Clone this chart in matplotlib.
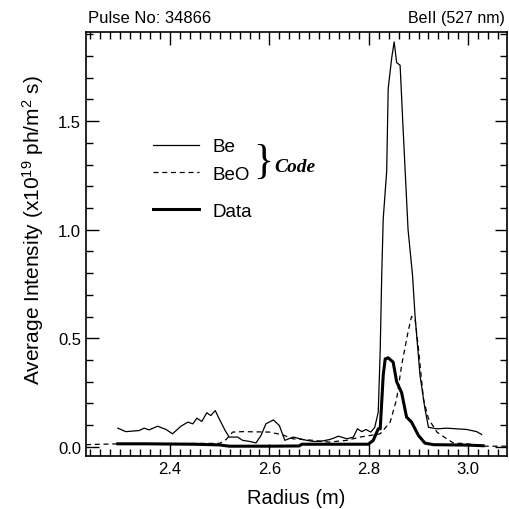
import numpy as np
import matplotlib.pyplot as plt
from matplotlib.ticker import MultipleLocator

plt.rcParams['font.family'] = ['Liberation Sans', 'DejaVu Sans']
plt.rcParams['mathtext.default'] = 'regular'

# Be (code) - thin solid
be_r = [2.295, 2.311, 2.338, 2.348, 2.358, 2.375, 2.392, 2.405, 2.422, 2.436, 2.446, 2.454,
        2.464, 2.474, 2.482, 2.491, 2.499, 2.511, 2.519, 2.536, 2.546, 2.560, 2.573, 2.583,
        2.593, 2.608, 2.620, 2.631, 2.648, 2.662, 2.675, 2.688, 2.702, 2.722, 2.739, 2.756,
        2.769, 2.777, 2.786, 2.794, 2.804, 2.812, 2.819, 2.823, 2.826, 2.829, 2.836, 2.839,
        2.846, 2.851, 2.856, 2.863, 2.869, 2.879, 2.888, 2.893, 2.903, 2.913, 2.920, 2.937,
        2.957, 2.997, 3.017, 3.027]
be_i = [0.086, 0.070, 0.075, 0.086, 0.078, 0.095, 0.080, 0.060, 0.095, 0.114, 0.106, 0.132,
        0.117, 0.157, 0.144, 0.167, 0.129, 0.075, 0.045, 0.045, 0.030, 0.025, 0.018, 0.052,
        0.106, 0.124, 0.098, 0.030, 0.045, 0.037, 0.030, 0.025, 0.025, 0.034, 0.049, 0.037,
        0.045, 0.083, 0.070, 0.080, 0.068, 0.090, 0.160, 0.450, 0.790, 1.050, 1.270, 1.650,
        1.790, 1.865, 1.770, 1.757, 1.465, 1.000, 0.790, 0.605, 0.330, 0.175, 0.090, 0.083,
        0.086, 0.080, 0.070, 0.057]

# BeO (code) - dashed
beo_r = [2.231, 2.260, 2.300, 2.400, 2.500, 2.513, 2.526, 2.546, 2.600, 2.627, 2.647, 2.688,
         2.720, 2.756, 2.782, 2.802, 2.823, 2.843, 2.856, 2.866, 2.879, 2.886, 2.893, 2.900,
         2.910, 2.920, 2.937, 2.957, 2.970, 2.997, 3.030, 3.078]
beo_i = [0.010, 0.012, 0.014, 0.015, 0.016, 0.034, 0.068, 0.070, 0.068, 0.055, 0.037, 0.030,
         0.022, 0.030, 0.045, 0.052, 0.060, 0.114, 0.220, 0.375, 0.530, 0.600, 0.590, 0.450,
         0.220, 0.130, 0.068, 0.037, 0.018, 0.014, 0.003, 0.003]

# measured data - thick solid
dat_r = [2.295, 2.350, 2.400, 2.450, 2.499, 2.519, 2.600, 2.660, 2.665, 2.750, 2.799, 2.809,
         2.819, 2.823, 2.829, 2.833, 2.839, 2.849, 2.856, 2.866, 2.876, 2.886, 2.900, 2.913,
         2.930, 3.000, 3.030]
dat_i = [0.014, 0.014, 0.013, 0.012, 0.009, 0.003, 0.003, 0.004, 0.012, 0.012, 0.012, 0.030,
         0.083, 0.083, 0.330, 0.405, 0.410, 0.390, 0.300, 0.250, 0.137, 0.114, 0.052, 0.017,
         0.010, 0.008, 0.005]

fig = plt.figure(figsize=(5.09, 5.10), dpi=100)
ax = fig.add_axes([0.169, 0.104, 0.827, 0.831])

l1, = ax.plot(be_r, be_i, color='black', lw=0.9)
l2, = ax.plot(beo_r, beo_i, color='black', lw=0.9, dashes=(4, 3))
l3, = ax.plot(dat_r, dat_i, color='black', lw=2.2)

ax.set_xlim(2.231, 3.078)
ax.set_ylim(-0.042, 1.91)
ax.xaxis.set_minor_locator(MultipleLocator(0.02))
ax.yaxis.set_minor_locator(MultipleLocator(0.1))
ax.set_xticks([2.4, 2.6, 2.8, 3.0])
ax.set_yticks([0.0, 0.5, 1.0, 1.5])
ax.xaxis.set_major_formatter(plt.FormatStrFormatter('%.1f'))
ax.yaxis.set_major_formatter(plt.FormatStrFormatter('%.1f'))
ax.tick_params(which='both', direction='in', top=True, right=True, labelsize=12)
ax.tick_params(which='major', length=9, width=1)
ax.tick_params(which='minor', length=5, width=1)
for s in ax.spines.values():
    s.set_linewidth(1.2)

ax.set_xlabel('Radius (m)', fontsize=14.5, labelpad=9)
ax.set_ylabel('Average Intensity (x10$^{19}$ ph/m$^{2}$ s)', fontsize=15)
ax.yaxis.set_label_coords(-0.095, 0.535)

fig.text(0.173, 0.964, 'Pulse No: 34866', fontsize=12, va='center', ha='left')
fig.text(0.992, 0.964, 'BeII (527 nm)', fontsize=11.5, va='center', ha='right')

leg1 = ax.legend([l1, l2], ['Be', 'BeO'], loc='upper left', bbox_to_anchor=(0.158, 0.75),
                 frameon=False, fontsize=13.5, handlelength=2.5, handletextpad=0.7,
                 labelspacing=0.55, borderpad=0, borderaxespad=0)
ax.add_artist(leg1)
ax.legend([l3], ['Data'], loc='upper left', bbox_to_anchor=(0.158, 0.598),
          frameon=False, fontsize=13.5, handlelength=2.5, handletextpad=0.7,
          borderpad=0, borderaxespad=0)

ax.text(0.398, 0.695, '}', transform=ax.transAxes, fontsize=30, family='Liberation Serif',
        va='center', ha='left')
ax.text(0.447, 0.684, 'Code', transform=ax.transAxes, fontsize=14, family='Liberation Serif',
        style='italic', weight='bold', va='center', ha='left')

fig.savefig('out.png', dpi=100)
